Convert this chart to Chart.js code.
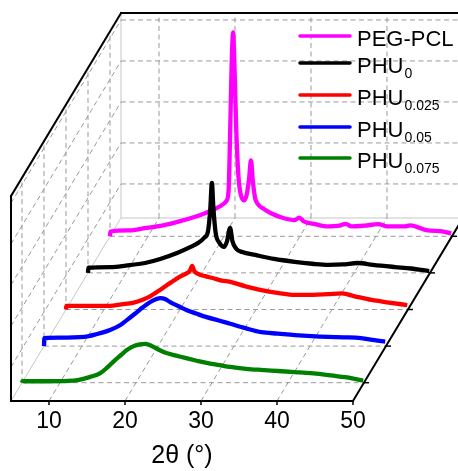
<!DOCTYPE html>
<html>
<head>
<meta charset="utf-8">
<script src="https://cdn.jsdelivr.net/npm/chart.js@4"></script>
<style>
  html, body { margin: 0; padding: 0; background: #ffffff; }
  #wrap { width: 458px; height: 471px; }
</style>
</head>
<body>
<div id="wrap"><canvas id="xrdChart"></canvas></div>
<script>
// 2θ ticks on the front axis
var tickLabels = [10, 20, 30, 40, 50];

// series names (subscripts kept apart), colours, and their depth slot (front = 0.5)
var seriesNames = ['PEG-PCL', 'PHU', 'PHU', 'PHU', 'PHU'];
var seriesSubs = ['', '0', '0.025', '0.05', '0.075'];
var seriesColors = ['#ff00ff', '#000000', '#ff0000', '#0000ff', '#008000'];
var seriesDepth = [4.5, 3.5, 2.5, 1.5, 0.5];

// height levels of the dashed wall grid (a.u.)
var wallGrid = [93, 205, 317, 429, 541];

// PEG-PCL
var pegPclX = [5, 5.05, 7.5, 9.6, 12, 14, 16, 17.5, 18.7, 19.7, 20.3, 20.6, 20.8, 21.0, 21.2, 21.4, 21.6, 21.9, 22.2, 22.6, 23.0, 23.3, 23.55, 23.8, 24.1, 24.5, 25.3, 26.2, 27.5, 29.3, 29.9, 30.5, 32, 33.7, 35.2, 36, 36.8, 38.5, 40.3, 41.5, 43.8, 44.5, 46.8, 48.5, 49.9];
var pegPclY = [0, 13, 16, 22, 30, 40, 52, 63, 74, 85, 96, 123, 273, 464, 557, 450, 300, 164, 115, 98, 115, 158, 207, 150, 104, 87, 74, 63, 52, 44, 51, 41, 33, 27, 29, 34, 27, 29, 33, 27, 27, 30, 16, 14, 8];

// PHU0
var phu0X = [5, 5.05, 8, 10, 12.5, 14.5, 16.8, 18.5, 19.5, 20.3, 20.8, 21.1, 21.3, 21.5, 21.8, 22.3, 22.9, 23.3, 23.7, 24.0, 24.5, 25.3, 27, 29.5, 32.2, 34.5, 36.6, 38.5, 40.5, 42.5, 45.4, 47.5, 49.9];
var phu0Y = [0, 14, 16, 20, 27, 38, 55, 71, 82, 96, 115, 177, 246, 177, 109, 82, 71, 87, 123, 87, 66, 57, 49, 38, 30, 25, 22, 23, 27, 22, 16, 12, 5];

// PHU0.025
var phu025X = [5, 5.05, 8, 10.8, 12.3, 13.8, 15, 16, 17.2, 18.3, 19.2, 20, 20.8, 21.3, 21.6, 21.9, 22.3, 23.3, 24.3, 25.5, 26.5, 28.5, 30.7, 33, 35.1, 37.5, 39.5, 41.3, 43, 45.2, 47.5, 49.9];
var phu025Y = [0, 10, 10, 10, 14, 18, 26, 35, 51, 67, 79, 90, 98, 106, 119, 104, 98, 91, 86, 79, 76, 64, 53, 45, 40, 40, 42, 44, 36, 26, 19, 12];

// PHU0.05
var phu05X = [5, 5.05, 7, 10.3, 12, 13.7, 15, 15.9, 17, 18, 19.2, 20.3, 21, 21.6, 22.7, 23.8, 25, 26.4, 28, 29.5, 31.5, 33.6, 35.8, 38, 40.2, 42.4, 44.5, 46.7, 48.5, 49.9];
var phu05Y = [0, 22, 23, 25, 33, 44, 57, 71, 89, 106, 123, 131, 128, 120, 109, 98, 89, 79, 70, 61, 49, 38, 34, 30, 27, 25, 24, 22, 16, 12];

// PHU0.075
var phu075X = [5, 5.05, 8, 11, 12.5, 14, 15.3, 16.2, 17, 18, 18.8, 19.7, 20.5, 21.3, 22, 23, 24, 25.3, 26.6, 28, 29.3, 31, 32.4, 34.5, 36.4, 38.7, 40.9, 43, 45.3, 47.5, 49.9];
var phu075Y = [0, 4, 4, 5, 8, 16, 26, 41, 57, 75, 89, 100, 105, 106, 101, 90, 81, 74, 67, 60, 54, 48, 43, 38, 35, 32, 29, 26, 21, 15, 6];

var seriesX = [pegPclX, phu0X, phu025X, phu05X, phu075X];
var seriesY = [pegPclY, phu0Y, phu025Y, phu05Y, phu075Y];

// each step back in depth shifts right by DEPTH_DX (2θ) and up by DEPTH_DY (a.u.)
var DEPTH_DX = 2.895;
var DEPTH_DY = 100;
var BOX_H = 560;
var FONT = "'Liberation Sans', Arial, sans-serif";

function toPoints(xs, ys, d) {
	var pts = [];
	for (var i = 0; i < xs.length; i++) {
		pts.push({ x: xs[i] + d * DEPTH_DX, y: ys[i] + d * DEPTH_DY });
	}
	return pts;
}

var datasets = [];
for (var s = 0; s < seriesX.length; s++) {
	datasets.push({
		label: seriesNames[s] + seriesSubs[s],
		data: toPoints(seriesX[s], seriesY[s], seriesDepth[s]),
		borderColor: seriesColors[s],
		borderWidth: 4.3,
		pointRadius: 0,
		showLine: true,
		fill: false,
		cubicInterpolationMode: 'monotone',
		order: seriesX.length - 1 - s  // front series drawn on top
	});
}

// walls, floor grid, frame, axis labels and legend
var waterfallFrame = {
	id: 'waterfallFrame',
	beforeDatasetsDraw: function(chart) {
		var ctx = chart.ctx;
		var xs = chart.scales.x, ys = chart.scales.y;
		function P(t, d, h) {
			return [xs.getPixelForValue(t + d * DEPTH_DX), ys.getPixelForValue(h + d * DEPTH_DY)];
		}
		function seg(a, b) {
			ctx.beginPath(); ctx.moveTo(a[0], a[1]); ctx.lineTo(b[0], b[1]); ctx.stroke();
		}
		ctx.save();
		ctx.lineWidth = 1;
		ctx.strokeStyle = '#c6c6c6';
		seg(P(5, 0, 0), P(5, 5, 0));
		seg(P(5, 5, 0), P(50, 5, 0));
		seg(P(5, 5, 0), P(5, 5, BOX_H));

		ctx.setLineDash([5, 3.5]);
		ctx.strokeStyle = '#999999';
		for (var i = 0; i < tickLabels.length - 1; i++) {
			var t = tickLabels[i];
			seg(P(t, 0, 0), P(t, 5, 0));
			seg(P(t, 5, 0), P(t, 5, BOX_H));
		}
		for (var j = 0; j < wallGrid.length; j++) {
			seg(P(5, 5, wallGrid[j]), P(50, 5, wallGrid[j]));
			seg(P(5, 0, wallGrid[j]), P(5, 5, wallGrid[j]));
		}
		for (var k = 0; k < seriesDepth.length; k++) {
			var d = seriesDepth[k];
			seg(P(5, d, 0), P(50, d, 0));
			seg(P(5, d, 0), P(5, d, BOX_H));
		}
		ctx.restore();
	},
	afterDatasetsDraw: function(chart) {
		var ctx = chart.ctx;
		var xs = chart.scales.x, ys = chart.scales.y;
		function P(t, d, h) {
			return [xs.getPixelForValue(t + d * DEPTH_DX), ys.getPixelForValue(h + d * DEPTH_DY)];
		}
		function seg(a, b) {
			ctx.beginPath(); ctx.moveTo(a[0], a[1]); ctx.lineTo(b[0], b[1]); ctx.stroke();
		}
		ctx.save();
		ctx.strokeStyle = '#000000';
		ctx.lineWidth = 2;
		ctx.lineCap = 'square';
		seg(P(5, 0, 0), P(50, 0, 0));
		seg(P(5, 0, 0), P(5, 0, BOX_H));
		seg(P(5, 0, BOX_H), P(5, 5, BOX_H));
		seg(P(5, 5, BOX_H), P(50, 5, BOX_H));
		seg(P(50, 0, 0), P(50, 5.2, 0));

		// ticks on the 2θ axis and on the right depth edge
		ctx.lineCap = 'butt';
		ctx.lineWidth = 1.5;
		ctx.fillStyle = '#000000';
		ctx.font = '23px ' + FONT;
		ctx.textAlign = 'center';
		ctx.textBaseline = 'alphabetic';
		for (var i = 0; i < tickLabels.length; i++) {
			var p = P(tickLabels[i], 0, 0);
			seg(p, [p[0], p[1] + 4]);
			ctx.fillText(String(tickLabels[i]), p[0], 428);
		}
		for (var k = 0; k < seriesDepth.length; k++) {
			var q = P(50, seriesDepth[k], 0);
			seg([q[0] - 1, q[1]], [q[0] + 5, q[1]]);
		}
		ctx.font = '25px ' + FONT;
		ctx.fillText('2θ (°)', (P(5, 0, 0)[0] + P(50, 0, 0)[0]) / 2, 463);

		// legend with subscripts
		var rows = [36, 63, 95, 127, 158];
		ctx.textAlign = 'left';
		for (var r = 0; r < seriesNames.length; r++) {
			ctx.strokeStyle = seriesColors[r];
			ctx.lineWidth = 3.5;
			ctx.lineCap = 'round';
			seg([300, rows[r]], [350, rows[r]]);
			ctx.fillStyle = '#000000';
			ctx.font = '22px ' + FONT;
			ctx.fillText(seriesNames[r], 357, rows[r] + 9.5);
			if (seriesSubs[r]) {
				var w = ctx.measureText(seriesNames[r]).width;
				ctx.font = '14px ' + FONT;
				ctx.fillText(seriesSubs[r], 357 + w + 1, rows[r] + 14.5);
			}
		}
		ctx.restore();
	}
};

window.onload = function() {
	var ctx = document.getElementById('xrdChart').getContext('2d');
	new Chart(ctx, {
		type: 'scatter',
		data: { datasets: datasets },
		options: {
			responsive: true,
			maintainAspectRatio: false,
			animation: false,
			layout: { padding: { left: 11, right: 0, top: 13, bottom: 70 } },
			plugins: { legend: { display: false }, tooltip: { enabled: false } },
			scales: {
				x: { type: 'linear', min: 5, max: 63.82, display: false },
				y: { type: 'linear', min: 0, max: 1060, display: false }
			}
		},
		plugins: [waterfallFrame]
	});
};
</script>
</body>
</html>
